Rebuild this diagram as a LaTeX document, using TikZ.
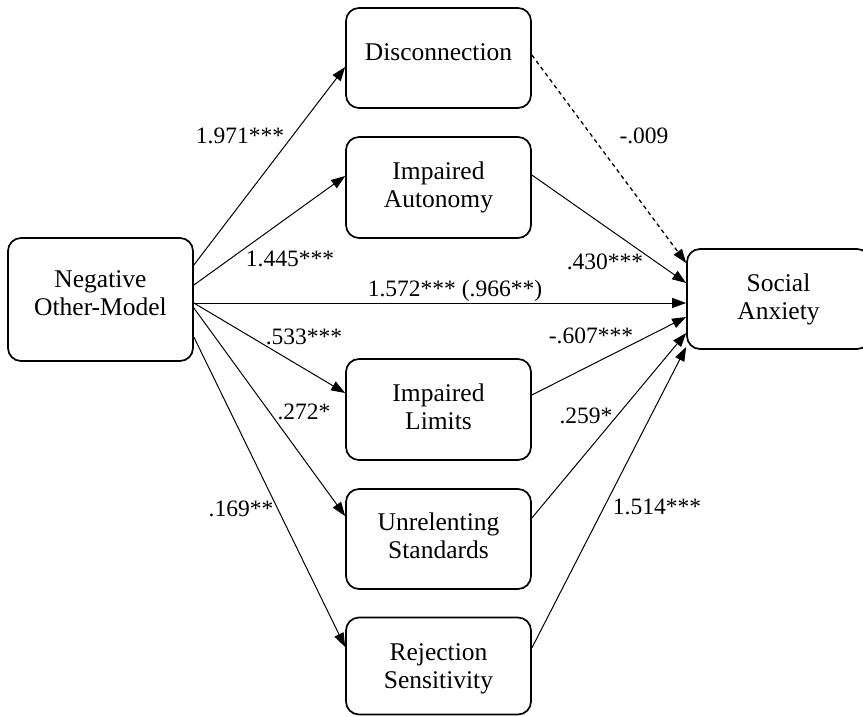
\documentclass[tikz,border=0pt]{standalone}
\usepackage{fontspec}
\setmainfont{Liberation Serif}
\usetikzlibrary{arrows.meta}
\begin{document}
\begin{tikzpicture}[x=1pt,y=-1pt,
  box/.style={draw=black, line width=1.7pt, rounded corners=13pt, align=center,
    inner sep=0pt, font=\fontsize{25.5}{28}\selectfont},
  conn/.style={line width=1pt, -{Triangle[length=14pt,width=10pt]}},
  lab/.style={inner sep=0pt, font=\fontsize{23.5}{26}\selectfont}]
\useasboundingbox (0,0) rectangle (863,716);
\fill[white] (0,0) rectangle (863,716);
% nodes
\node[box, minimum width=185pt, minimum height=123pt, text depth=12pt] (neg) at (100.5,299.5) {Negative\\Other-Model};
\node[box, minimum width=185pt, minimum height=100pt, text depth=12pt] (disc) at (438.5,58) {Disconnection};
\node[box, minimum width=185pt, minimum height=101pt] (auto) at (438.5,187.5) {Impaired\\Autonomy};
\node[box, minimum width=185pt, minimum height=101pt, text depth=6pt] (lim) at (438.5,409.5) {Impaired\\Limits};
\node[box, minimum width=185pt, minimum height=100pt, text depth=6pt] (unr) at (438.5,539) {Unrelenting\\Standards};
\node[box, minimum width=185pt, minimum height=97pt, text depth=0pt] (rej) at (438.5,666) {Rejection\\Sensitivity};
\node[box, minimum width=183pt, minimum height=100pt] (soc) at (778.5,299) {Social\\Anxiety};
% paths from Negative Other-Model
\draw[conn] ([yshift=34.5pt]neg.east) -- ([yshift=-9pt]disc.west);
\draw[conn] ([yshift=14.5pt]neg.east) -- ([yshift=11.5pt]auto.west);
\draw[conn] ([yshift=-3.5pt]neg.east) -- ([yshift=-4pt]soc.west);
\draw[conn] ([yshift=-3.5pt]neg.east) -- ([yshift=16.5pt]lim.west);
\draw[conn] ([yshift=-8.5pt]neg.east) -- ([yshift=23pt]unr.west);
\draw[conn] ([yshift=-37.5pt]neg.east) -- ([yshift=19pt]rej.west);
% paths to Social Anxiety
\draw[conn, line width=1.3pt, dash pattern=on 4pt off 3.5pt] ([yshift=3pt]disc.east) -- ([yshift=36pt]soc.west);
\draw[conn] ([yshift=12.5pt]auto.east) -- ([yshift=16pt]soc.west);
\draw[conn] ([yshift=14.5pt]lim.east) -- ([yshift=-18pt]soc.west);
\draw[conn] ([yshift=21pt]unr.east) -- ([yshift=-34pt]soc.west);
\draw[conn] ([yshift=18pt]rej.east) -- ([yshift=-48pt]soc.west);
% labels
\node[lab] (l1) at (240,136) {1.971***};
\node[lab] (l2) at (290,259) {1.445***};
\node[lab] (l3) at (455,291) {1.572*** (.966**)};
\node[lab] (l4) at (304,337) {.533***};
\node[lab] (l5) at (304,412) {.272*};
\node[lab] (l6) at (241,509) {.169**};
\node[lab] (l7) at (644,136) {-.009};
\node[lab] (l8) at (605,262) {.430***};
\node[lab] (l9) at (591,336) {-.607***};
\node[lab] (l10) at (586,416) {.259*};
\node[lab] (l11) at (657,507) {1.514***};
\end{tikzpicture}
\end{document}
